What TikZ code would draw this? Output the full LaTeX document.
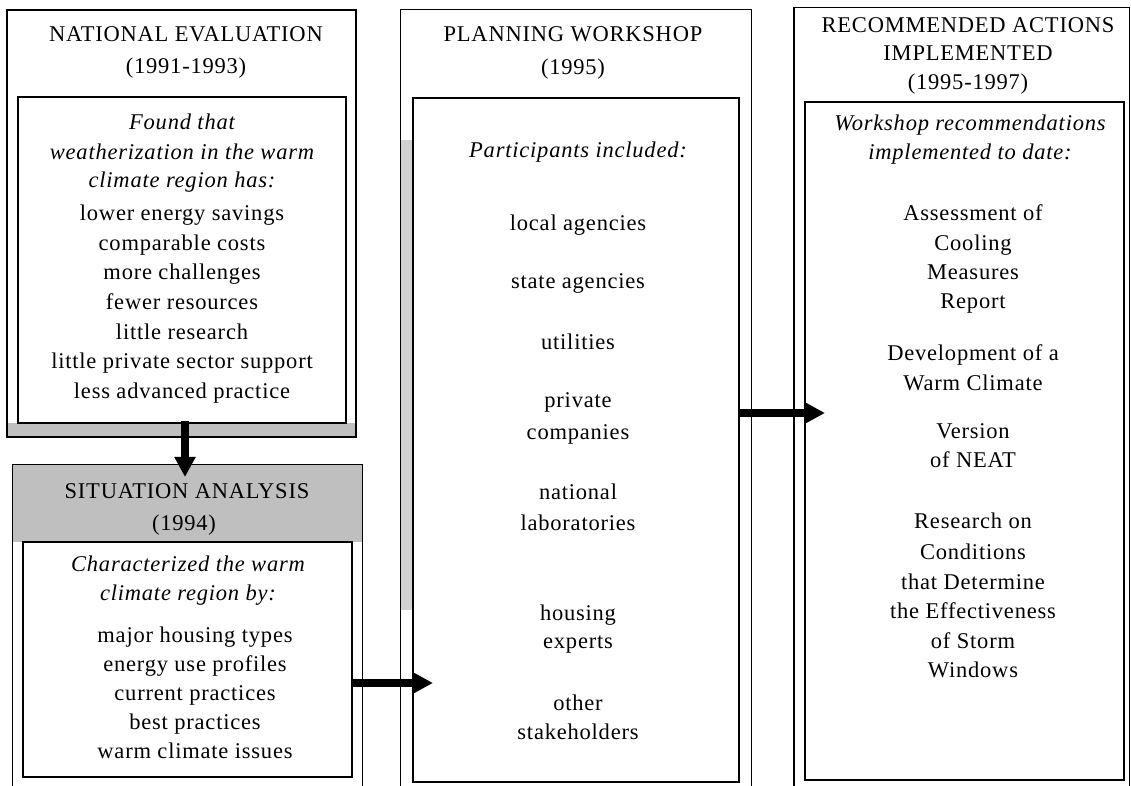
\documentclass[tikz,border=0pt]{standalone}
\usepackage{fontspec}
\setmainfont{Liberation Serif}[LetterSpace=3.5]
\usetikzlibrary{arrows.meta, positioning, fit}
\newcommand{\panelfont}{\fontsize{16}{19}\selectfont}

\begin{document}
\begin{tikzpicture}[
    x=0.025cm, y=-0.025cm,
    % Define styles for the panels
    frame_node/.style={rectangle, draw=black, line width=1.1pt, inner sep=0pt},
    open_node/.style={rectangle, inner sep=0pt},
    frame_line/.style={draw=black, line width=1.1pt},
    shade/.style={fill=black!25, draw=none},
    % Styles for the texts
    title_node/.style={anchor=base, inner sep=0pt, font=\panelfont},
    lead_node/.style={anchor=base, inner sep=0pt, font=\panelfont\itshape},
    item_node/.style={anchor=base, inner sep=0pt, font=\panelfont},
    % Styles for arrows
    flow/.style={line width=5.5pt, -{Triangle[length=0.5cm, width=0.5cm]}}
]
    \useasboundingbox (0,0) rectangle (1131,786);

    % =========================================================================
    % SPECKLED BANDS
    % =========================================================================
    \fill[shade] (7,423) rectangle (356,437);
    \fill[shade] (13,465) rectangle (362,542);
    \fill[shade, fill=black!18] (401,140) rectangle (413,610);

    % =========================================================================
    % PANEL 1 - NATIONAL EVALUATION
    % =========================================================================
    \node (ne_outer) [frame_node, fit={(7,10) (356,437)}] {};
    \node (ne_inner) [frame_node, fit={(18,97) (346,423)}] {};

    \node (ne_title1) [title_node] at (186,42) {NATIONAL EVALUATION};
    \node (ne_title2) [title_node] at (186,74) {(1991-1993)};

    \foreach \txt/\y [count=\i] in {Found that/130, weatherization in the warm/160,
        climate region has:/188}
        \node (ne_lead\i) [lead_node] at (182,\y) {\txt};

    \foreach \txt/\y [count=\i] in {lower energy savings/221, comparable costs/251,
        more challenges/280, fewer resources/310, little research/340,
        little private sector support/369, less advanced practice/399}
        \node (ne_item\i) [item_node] at (182,\y) {\txt};

    % =========================================================================
    % PANEL 2 - SITUATION ANALYSIS
    % =========================================================================
    \node (sa_outer) [open_node, fit={(13,465) (362,786)}] {};
    \draw[frame_line] (sa_outer.south west) |- (sa_outer.north east) -- (sa_outer.south east);
    \node (sa_inner) [frame_node, fit={(23,542) (352,777)}] {};

    \node (sa_title1) [title_node] at (187,499) {SITUATION ANALYSIS};
    \node (sa_title2) [title_node] at (184,530) {(1994)};

    \foreach \txt/\y [count=\i] in {Characterized the warm/572, climate region by:/600}
        \node (sa_lead\i) [lead_node] at (188,\y) {\txt};

    \foreach \txt/\y [count=\i] in {major housing types/642, energy use profiles/671,
        current practices/700, best practices/729, warm climate issues/758}
        \node (sa_item\i) [item_node] at (195,\y) {\txt};

    % =========================================================================
    % PANEL 3 - PLANNING WORKSHOP
    % =========================================================================
    \node (pw_outer) [open_node, fit={(401,10) (751,786)}] {};
    \draw[frame_line] (pw_outer.south west) |- (pw_outer.north east) -- (pw_outer.south east);
    \node (pw_inner) [frame_node, fit={(413,98) (739,782)}] {};

    \node (pw_title1) [title_node] at (573,42) {PLANNING WORKSHOP};
    \node (pw_title2) [title_node] at (573,75) {(1995)};

    \node (pw_lead) [lead_node] at (578,158) {Participants included:};

    \foreach \txt/\y [count=\i] in {local agencies/231, state agencies/289,
        utilities/350, private/408, companies/440, national/500,
        laboratories/531, housing/620, experts/648, other/710, stakeholders/739}
        \node (pw_item\i) [item_node] at (578,\y) {\txt};

    % =========================================================================
    % PANEL 4 - RECOMMENDED ACTIONS IMPLEMENTED
    % =========================================================================
    \node (ra_outer) [open_node, fit={(794,8) (1129,786)}] {};
    \draw[frame_line] (ra_outer.south west) |- (ra_outer.north east) -- (ra_outer.south east);
    \node (ra_inner) [frame_node, fit={(805,102) (1124,780)}] {};

    \node (ra_title1) [title_node] at (968,33) {RECOMMENDED ACTIONS};
    \node (ra_title2) [title_node] at (968,61) {IMPLEMENTED};
    \node (ra_title3) [title_node] at (968,90) {(1995-1997)};

    \foreach \txt/\y [count=\i] in {Workshop recommendations/131, implemented to date:/160}
        \node (ra_lead\i) [lead_node] at (970,\y) {\txt};

    \foreach \txt/\y [count=\i] in {Assessment of/221, Cooling/251, Measures/280,
        Report/309, Development of a/361, Warm Climate/391, Version/439,
        of NEAT/468, Research on/529, Conditions/559, that Determine/589,
        the Effectiveness/618, of Storm/648, Windows/677}
        \node (ra_item\i) [item_node] at (973,\y) {\txt};

    % =========================================================================
    % CONNECTORS
    % =========================================================================
    \coordinate (sa_tip) at (185,477);
    \coordinate (pw_tip) at (433,683);
    \coordinate (ra_tip) at (825,413);

    \draw[flow] ([yshift=2pt]ne_inner.south -| sa_tip) -- (sa_tip);
    \draw[flow] (sa_inner.east |- pw_tip) -- (pw_tip);
    \draw[flow] (pw_inner.east |- ra_tip) -- (ra_tip);

\end{tikzpicture}
\end{document}
